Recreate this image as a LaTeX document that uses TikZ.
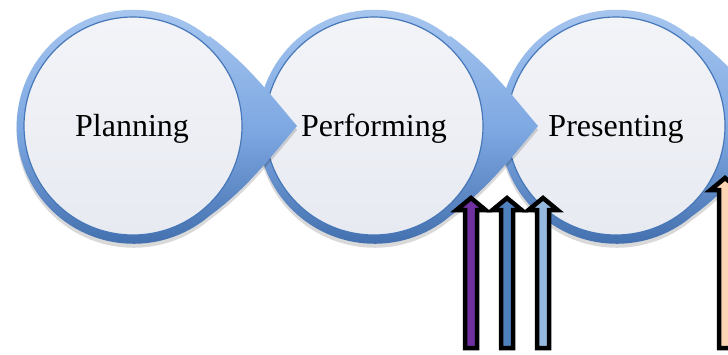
\documentclass[tikz,border=0pt]{standalone}
\usepackage{fontspec}
\setmainfont{Liberation Serif}
\usetikzlibrary{shadows,calc}
\definecolor{ringtop}{HTML}{A9C8F0}
\definecolor{ringbot}{HTML}{3C69A8}
\definecolor{ringmid}{HTML}{7EA8E2}
\definecolor{innerline}{HTML}{4677B8}
\definecolor{disktop}{HTML}{F3F4F8}
\definecolor{diskbot}{HTML}{E7EAF1}
\definecolor{arrpurple}{HTML}{7030A0}
\definecolor{arrblue}{HTML}{4F81BD}
\definecolor{arrlight}{HTML}{95B9DF}
\definecolor{arrpeach}{HTML}{FCD5B4}
\tikzset{
  ringshape/.style={top color=ringtop, bottom color=ringbot, middle color=ringmid,
    drop shadow={shadow xshift=0pt, shadow yshift=-4pt, opacity=0.15, fill=black}},
  diskshape/.style={top color=disktop, bottom color=diskbot, draw=innerline, line width=1.2pt},
  stagetext/.style={anchor=base, font=\fontsize{32}{38}\selectfont, text=black},
  uparrowline/.style={draw=black, line width=4.5pt, line join=miter},
}
\newcommand\stageshape[1]{%
  \shade[ringshape] ($(#1)+(75.8,-90.4)$) .. controls ($(#1)+(115,-62)$) and ($(#1)+(140,-28)$) .. ($(#1)+(164,0)$)
     .. controls ($(#1)+(140,28)$) and ($(#1)+(115,62)$) .. ($(#1)+(75.8,90.4)$)
     arc[start angle=50, end angle=310, radius=117] -- cycle;
  \shade[diskshape] (#1) circle[radius=109];
}
\newcommand\uparr[4]{%
  \draw[uparrowline, fill=#4] (#1-6,348) -- (#1-6,#3) -- (#1-14.5,#3) -- (#1,#2) -- (#1+14.5,#3) -- (#1+6,#3) -- (#1+6,348) -- cycle;
}
\begin{document}
\begin{tikzpicture}[x=1pt,y=-1pt]
\useasboundingbox (0,0) rectangle (728,354);
\coordinate (c1) at (133,126);
\coordinate (c2) at (374,126);
\coordinate (c3) at (616,126);
\stageshape{c3}
\stageshape{c2}
\stageshape{c1}
\node[stagetext] (t1) at (132,136) {Planning};
\node[stagetext] (t2) at (374,136) {Performing};
\node[stagetext] (t3) at (616,136) {Presenting};
\uparr{471}{198}{210}{arrpurple}
\uparr{507}{198}{210}{arrblue}
\uparr{543}{198}{210}{arrlight}
\uparr{725}{178}{190}{arrpeach}
\end{tikzpicture}
\end{document}
